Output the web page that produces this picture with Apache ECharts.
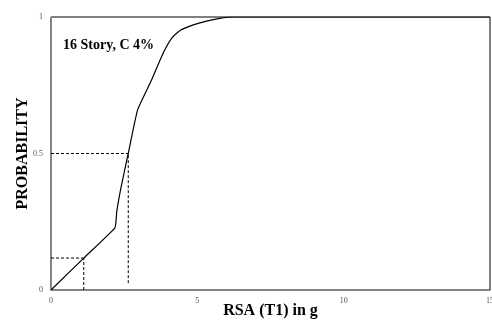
<!DOCTYPE html>
<html><head><meta charset="utf-8">
<script src="https://cdn.jsdelivr.net/npm/echarts@6/dist/echarts.min.js"></script>
<style>html,body{margin:0;padding:0;background:#fff}#c{width:492px;height:323px}</style>
</head><body><div id="c"></div>
<script>
const xValues = [0, 1.12, 2.18, 2.22, 2.25, 2.4, 2.64, 2.96, 3.44, 3.83, 4.12, 4.4, 4.86, 5.31, 5.77, 6.2, 15];
const probValues = [0, 0.117, 0.227, 0.25, 0.29, 0.38, 0.5, 0.66, 0.77, 0.867, 0.922, 0.95, 0.971, 0.985, 0.995, 1, 1];
const medianX = 2.64, medianP = 0.5;
const lowX = 1.12, lowP = 0.117;
const xTicks = [0, 5, 10, 15];
const yTicks = [0, 0.5, 1];
const titleText = '16 Story, C 4%';
const xTitle = 'RSA (T1) in g';
const yTitle = 'PROBABILITY';

const chart = echarts.init(document.getElementById('c'));
const dashStyle = {color: '#000', width: 1, type: [3, 2]};
chart.setOption({
  animation: false,
  grid: {left: 51, right: 2, top: 17, bottom: 33, show: true, borderColor: '#000', borderWidth: 1, outerBoundsMode: 'none', containLabel: false},
  title: {text: titleText, left: 58, top: 33, textStyle: {fontFamily: 'Liberation Serif', fontWeight: 'bold', fontSize: 14, color: '#000'}},
  xAxis: {type: 'value', min: xTicks[0], max: xTicks[xTicks.length-1], interval: 5,
    axisLine: {show: true, lineStyle: {color: '#888', width: 1}}, axisTick: {show: false}, splitLine: {show: false},
    axisLabel: {fontFamily: 'Liberation Serif', fontSize: 8, color: '#555', margin: 7},
    name: xTitle, nameLocation: 'middle', nameGap: 13, nameMoveOverlap: false,
    nameTextStyle: {fontFamily: 'Liberation Serif', fontWeight: 'bold', fontSize: 16, color: '#000'}},
  yAxis: {type: 'value', min: yTicks[0], max: yTicks[yTicks.length-1], interval: 0.5,
    axisLine: {show: true, lineStyle: {color: '#888', width: 1}}, axisTick: {show: false}, splitLine: {show: false},
    axisLabel: {fontFamily: 'Liberation Serif', fontSize: 8, color: '#555', margin: 8},
    name: yTitle, nameLocation: 'middle', nameGap: 20, nameMoveOverlap: false,
    nameTextStyle: {fontFamily: 'Liberation Serif', fontWeight: 'bold', fontSize: 16, color: '#000'}},
  series: [
    {type: 'line', data: xValues.map((x, i) => [x, probValues[i]]), showSymbol: false, smooth: 0.15, lineStyle: {color: '#000', width: 1.2}, z: 5},
    {type: 'line', data: [[0, medianP], [medianX, medianP]], showSymbol: false, lineStyle: dashStyle},
    {type: 'line', data: [[medianX, 0.025], [medianX, medianP]], showSymbol: false, lineStyle: dashStyle},
    {type: 'line', data: [[0, lowP], [lowX, lowP]], showSymbol: false, lineStyle: dashStyle},
    {type: 'line', data: [[lowX, 0], [lowX, lowP]], showSymbol: false, lineStyle: dashStyle}
  ]
});
</script></body></html>
